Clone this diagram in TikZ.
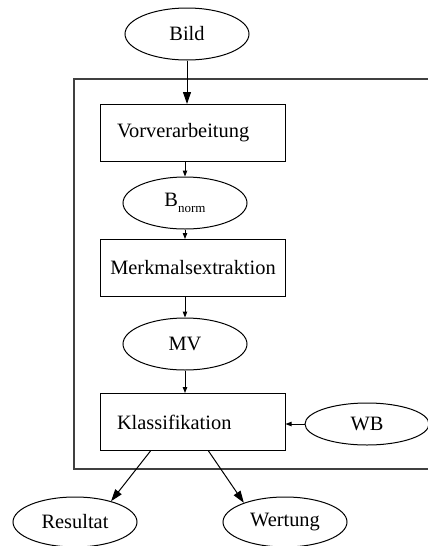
\documentclass[tikz,border=0pt]{standalone}
\usepackage{fontspec}
\setmainfont{Liberation Serif}
\usetikzlibrary{arrows.meta,positioning,shapes.geometric}

\begin{document}
\begin{tikzpicture}[x=0.5pt, y=-0.5pt,
  oval/.style={draw, ellipse, minimum width=62pt, minimum height=26pt, inner sep=0pt, font=\fontsize{10.2}{12}\selectfont},
  stage/.style={draw, rectangle, minimum height=28.5pt, text width=75.5pt, inner xsep=8.5pt, align=left, font=\fontsize{10.2}{12}\selectfont},
  flow/.style={-{Triangle[length=3pt,width=2.2pt]}},
  bigflow/.style={-{Triangle[length=6pt,width=4pt]}},
  line width=0.5pt]
\useasboundingbox (0,0) rectangle (428,546);
% system frame
\draw[line width=0.8pt, black!75] (74,79) rectangle (432,469);
\node[oval] (bild) at (187,34) {Bild};
\node[stage] (vorv) at (192.5,133) {Vorverarbeitung};
\node[oval] (bnorm) at (185,203) {B\raisebox{-0.6ex}{\fontsize{6.5}{7}\selectfont norm}};
\node[stage, text width=84.5pt, inner xsep=4pt, align=center] (merk) at (193,268) {Merkmalsextraktion};
\node[oval] (mv) at (185,344) {MV};
\node[stage] (klass) at (192.5,422) {Klassifikation};
\node[oval, minimum height=21pt] (wb) at (367,424) {WB};
\node[oval, minimum height=25pt] (res) at (75,522) {Resultat};
\node[oval, minimum height=25pt] (wert) at (285,522) {Wertung};
% connectors
\draw[bigflow] (bild) -- (bild |- vorv.north);
\draw[flow] (vorv.south -| bnorm) -- (bnorm.north);
\draw[flow] (bnorm) -- (bnorm |- merk.north);
\draw[flow] (merk.south -| mv) -- (mv.north);
\draw[flow] (mv) -- (mv |- klass.north);
\draw[flow] (wb.west) -- (wb.west -| klass.east);
\draw[bigflow] ([xshift=-21pt]klass.south) -- (res.30);
\draw[bigflow] ([xshift=8pt]klass.south) -- (wert.155);
\end{tikzpicture}
\end{document}
